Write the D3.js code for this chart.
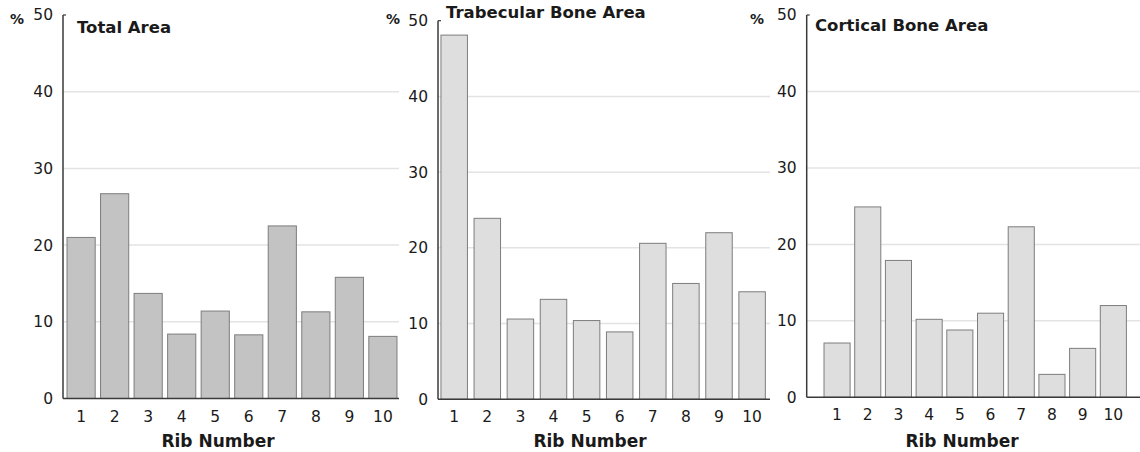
<!DOCTYPE html>
<html>
<head>
<meta charset="utf-8">
<script src="https://cdn.jsdelivr.net/npm/d3@7"></script>
<style>
    body { margin: 0; background: #fff; }
    svg { display: block; }
    text { font-family: "DejaVu Sans", sans-serif; fill: #1a1a1a; }
</style>
</head>
<body>
<svg id="chart" width="1140" height="452"></svg>
<script>
// Data
const ribs = ["1", "2", "3", "4", "5", "6", "7", "8", "9", "10"];
const yTicks = [0, 10, 20, 30, 40, 50];
const panelTitles = ["Total Area", "Trabecular Bone Area", "Cortical Bone Area"];
const totalArea = [21.0, 26.7, 13.7, 8.4, 11.4, 8.3, 22.5, 11.3, 15.8, 8.1];
const trabecularArea = [48.1, 23.9, 10.6, 13.2, 10.4, 8.9, 20.6, 15.3, 22.0, 14.2];
const corticalArea = [7.1, 24.9, 17.9, 10.2, 8.8, 11.0, 22.3, 3.0, 6.4, 12.0];
const xLabel = "Rib Number";

// layout for each panel (pixels)
const panels = [
    { title: panelTitles[0], values: totalArea, fill: "#c3c3c3",
      axisX: 63, right: 399, y0: 398.5, y50: 15, band: [65, 399], pi: 0.16, po: 0.06,
      titleX: 77, titleY: 33, pctX: 10, labelX: 218, gridEnd: 399 },
    { title: panelTitles[1], values: trabecularArea, fill: "#dedede",
      axisX: 438, right: 770, y0: 399.3, y50: 20.7, band: [439.3, 767], pi: 0.2, po: 0.05,
      titleX: 446, titleY: 18, pctX: 386, labelX: 590, gridEnd: 770 },
    { title: panelTitles[2], values: corticalArea, fill: "#dedede",
      axisX: 806.7, right: 1140, y0: 397.3, y50: 15, band: [814.8, 1135.6], pi: 0.15, po: 0.3,
      titleX: 815, titleY: 31, pctX: 750, labelX: 962, gridEnd: 1140 }
];

const svg = d3.select("#chart");

panels.forEach(p => {
    const g = svg.append("g");

    const x = d3.scaleBand()
        .domain(ribs)
        .range(p.band)
        .paddingInner(p.pi)
        .paddingOuter(p.po);

    const y = d3.scaleLinear()
        .domain([0, 50])
        .range([p.y0, p.y50]);

    // gridlines
    g.selectAll("line.grid")
        .data(yTicks.filter(t => t > 0 && t < 50))
        .enter()
        .append("line")
        .attr("class", "grid")
        .attr("x1", p.axisX)
        .attr("x2", p.gridEnd)
        .attr("y1", d => y(d))
        .attr("y2", d => y(d))
        .attr("stroke", "#e3e3e3")
        .attr("stroke-width", 1.5);

    // bars
    g.selectAll("rect")
        .data(p.values)
        .enter()
        .append("rect")
        .attr("x", (d, i) => x(ribs[i]))
        .attr("y", d => y(d))
        .attr("width", x.bandwidth())
        .attr("height", d => y(0) - y(d))
        .attr("fill", p.fill)
        .attr("stroke", "#7d7d7d")
        .attr("stroke-width", 1);

    // y axis
    const yAxis = g.append("g")
        .attr("transform", `translate(${p.axisX},0)`)
        .call(d3.axisLeft(y).tickValues(yTicks).tickSize(0).tickPadding(10));
    yAxis.select(".domain").remove();
    yAxis.selectAll("text").attr("font-size", 15.5).attr("font-family", "DejaVu Sans").attr("fill", "#1a1a1a");

    g.append("line")
        .attr("x1", p.axisX).attr("x2", p.axisX)
        .attr("y1", y(50)).attr("y2", y(0))
        .attr("stroke", "#3a3a3a").attr("stroke-width", 1.5);
    // small tick at top
    g.append("line")
        .attr("x1", p.axisX).attr("x2", p.axisX + 3)
        .attr("y1", y(50)).attr("y2", y(50))
        .attr("stroke", "#3a3a3a").attr("stroke-width", 1.2);

    // x axis
    const xAxis = g.append("g")
        .attr("transform", `translate(0,${y(0)})`)
        .call(d3.axisBottom(x).tickSize(0).tickPadding(12));
    xAxis.select(".domain").remove();
    xAxis.selectAll("text").attr("font-size", 15.5).attr("font-family", "DejaVu Sans").attr("fill", "#1a1a1a");

    g.append("line")
        .attr("x1", p.axisX).attr("x2", p.right)
        .attr("y1", y(0)).attr("y2", y(0))
        .attr("stroke", "#3a3a3a").attr("stroke-width", 1.5);

    // title
    g.append("text")
        .attr("x", p.titleX)
        .attr("y", p.titleY)
        .attr("font-size", 16.5)
        .attr("font-weight", "bold")
        .text(p.title);

    // percent sign
    g.append("text")
        .attr("x", p.pctX)
        .attr("y", 23.5)
        .attr("font-size", 14)
        .attr("font-weight", "bold")
        .text("%");

    // x label
    g.append("text")
        .attr("x", p.labelX)
        .attr("y", 446.5)
        .attr("text-anchor", "middle")
        .attr("font-size", 17)
        .attr("font-weight", "bold")
        .text(xLabel);
});
</script>
</body>
</html>
